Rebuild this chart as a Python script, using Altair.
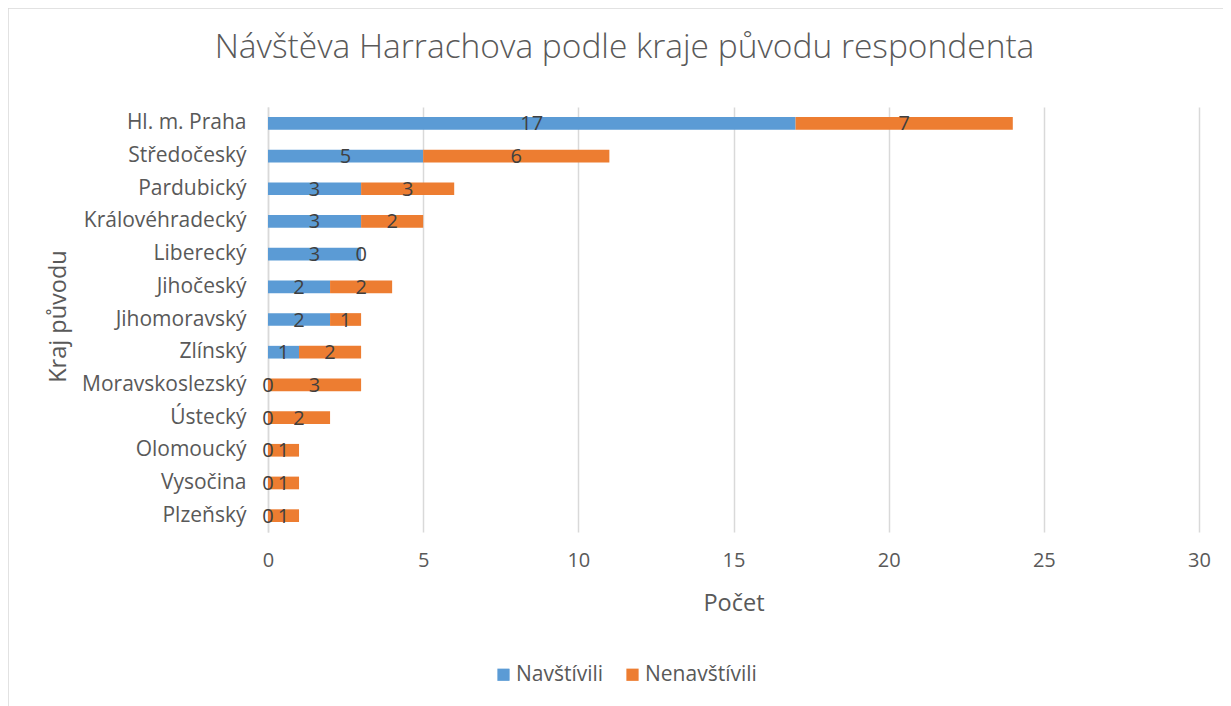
import altair as alt
import pandas as pd

regions = ["Hl. m. Praha", "Středočeský", "Pardubický", "Královéhradecký", "Liberecký",
           "Jihočeský", "Jihomoravský", "Zlínský", "Moravskoslezský", "Ústecký",
           "Olomoucký", "Vysočina", "Plzeňský"]
navstivili = [17, 5, 3, 3, 3, 2, 2, 1, 0, 0, 0, 0, 0]
nenavstivili = [7, 6, 3, 2, 0, 2, 1, 2, 3, 2, 1, 1, 1]
series = ["Navštívili", "Nenavštívili"]
colors = ["#5b9bd5", "#ed7d31"]
x_ticks = [0, 5, 10, 15, 20, 25, 30]

rows = []
for r, a, b in zip(regions, navstivili, nenavstivili):
    rows.append({"kraj": r, "serie": series[0], "poradi": 0, "pocet": a})
    rows.append({"kraj": r, "serie": series[1], "poradi": 1, "pocet": b})
df = pd.DataFrame(rows)

FONT = "Open Sans"
TXT = "#595959"

base = alt.Chart(df).transform_stack(
    stack="pocet", groupby=["kraj"], as_=["x0", "x1"],
    sort=[alt.SortField("poradi", order="ascending")]
).transform_calculate(xm="(datum.x0 + datum.x1) / 2")

y_enc = alt.Y("kraj:N", sort=regions,
              scale=alt.Scale(paddingInner=0, paddingOuter=0),
              axis=alt.Axis(title="Kraj původu", labelFont=FONT, labelFontSize=21,
                            labelColor=TXT, labelPadding=22, ticks=False,
                            domain=True, domainColor="#d9d9d9", domainWidth=1.5,
                            titleFont=FONT, titleFontSize=23.5, titleFontWeight="normal",
                            titleColor=TXT, titleX=-210, titleY=209,
                            titleAlign="center", titleBaseline="middle", titleAngle=270))

bars = base.mark_bar(size=12.7).encode(
    x=alt.X("x0:Q", scale=alt.Scale(domain=[0, 30], nice=False),
            axis=alt.Axis(values=x_ticks, title="Počet", grid=True, gridColor="#d9d9d9",
                          gridWidth=1.5, domain=False, ticks=False, labelFont=FONT,
                          labelFontSize=20, labelColor=TXT, labelPadding=18,
                          labelFlush=False,
                          titleFont=FONT, titleFontSize=23.5, titleFontWeight="normal",
                          titleColor=TXT, titleY=71, titleBaseline="middle")),
    x2="x1:Q",
    y=y_enc,
    color=alt.Color("serie:N", scale=alt.Scale(domain=series, range=colors),
                    legend=alt.Legend(title=None, orient="none", direction="horizontal",
                                      legendX=225, legendY=557, symbolType="square",
                                      symbolSize=150, symbolStrokeWidth=0,
                                      labelFont=FONT, labelFontSize=21, labelColor=TXT,
                                      labelOffset=2)),
    order=alt.Order("poradi:Q"),
)

labels = base.mark_text(font=FONT, fontSize=20, color="#404040",
                        baseline="middle", dy=1).encode(
    x="xm:Q",
    y=alt.Y("kraj:N", sort=regions),
    text="pocet:Q",
)

border = alt.Chart(pd.DataFrame({"a": [0]})).mark_rect(
    fill=None, stroke="#d9d9d9", strokeWidth=1.5
).encode(x=alt.value(-260), x2=alt.value(1000), y=alt.value(-99), y2=alt.value(700))

chart = alt.layer(bars, labels, border).properties(
    width=931, height=425,
    padding={"left": 260, "top": 99, "right": 24, "bottom": 174},
    autosize=alt.AutoSizeParams(type="none"),
    title=alt.TitleParams("Návštěva Harrachova podle kraje původu respondenta",
                          font=FONT, fontSize=33.5, fontWeight=300, color=TXT,
                          anchor="middle", dx=-109, offset=-91, baseline="bottom"),
).configure_view(stroke=None).configure_legend(columnPadding=18)

chart.save("out.html", embed_options={"renderer": "svg", "actions": False})
